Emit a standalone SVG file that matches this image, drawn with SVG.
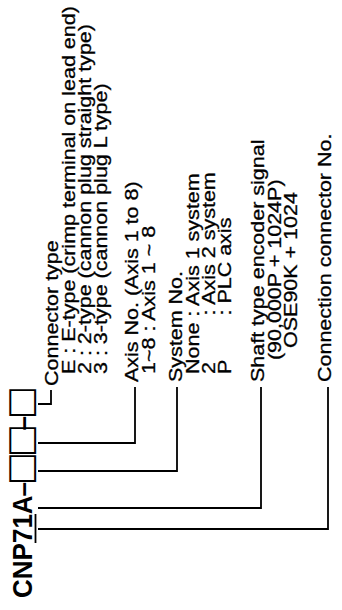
<svg xmlns="http://www.w3.org/2000/svg" width="342" height="610" viewBox="0 0 342 610">
<style>
.t{font-family:"Liberation Sans",Arial,sans-serif;font-size:18.5px;fill:#000;stroke:#000;stroke-width:0.3}
.ti{font-family:"Liberation Sans",Arial,sans-serif;font-size:28px;font-weight:bold;fill:#000}
.bx{font-family:"DejaVu Sans",sans-serif;font-size:35px;fill:#000}
.c{fill:none;stroke:#000;stroke-width:1.8}
</style>
<rect width="342" height="610" fill="#fff"/>
<g transform="translate(0,610) rotate(-90)">
  <g id="model">
    <g transform="scale(0.93,1)">
      <text class="ti" x="12.9" y="32">CNP71A</text>
      <text class="ti" x="122" y="32">–</text>
    </g>
    <line class="c" x1="67" y1="35.5" x2="96" y2="35.5"/>
    <text class="bx" x="125" y="32">□</text>
    <text class="bx" x="153" y="32">□</text>
    <g transform="scale(0.93,1)">
      <text class="ti" x="193" y="32">–</text>
    </g>
    <text class="bx" x="191" y="32">□</text>
  </g>
  <g id="connectors">
    <path class="c" d="M206,38 V51 H220"/>
    <path class="c" d="M167,38 V135 H223"/>
    <path class="c" d="M139,38 V177 H223"/>
    <path class="c" d="M102,38 V261 H223"/>
    <path class="c" d="M81,38 V328 H223"/>
  </g>
  <g transform="scale(1.162,1)">
    <g id="connector-type">
      <text class="t" x="192.8" y="58">Connector type</text>
      <text class="t" x="203.1" y="75">E : E-type (crimp terminal on lead end)</text>
      <text class="t" x="203.1" y="91">2 : 2-type (cannon plug straight type)</text>
      <text class="t" x="203.1" y="107">3 : 3-type (cannon plug L type)</text>
    </g>
    <g id="axis-no">
      <text class="t" x="196.2" y="138">Axis No. (Axis 1 to 8)</text>
      <text class="t" x="203.1" y="155">1~8 : Axis 1 ~ 8</text>
    </g>
    <g id="system-no">
      <text class="t" x="196.2" y="182">System No.</text>
      <text class="t" x="203.1" y="199">None : Axis 1 system</text>
      <text class="t" x="203.1" y="215">2<tspan x="253.4">: Axis 2 system</tspan></text>
      <text class="t" x="203.1" y="231">P<tspan x="253.4">: PLC axis</tspan></text>
    </g>
    <g id="shaft-type">
      <text class="t" x="196.2" y="264">Shaft type encoder signal</text>
      <text class="t" x="215.1" y="281">(90,000P + 1024P)</text>
      <text class="t" x="225.5" y="297">OSE90K + 1024</text>
    </g>
    <g id="connection-no">
      <text class="t" x="196.2" y="331">Connection connector No.</text>
    </g>
  </g>
</g>
</svg>
